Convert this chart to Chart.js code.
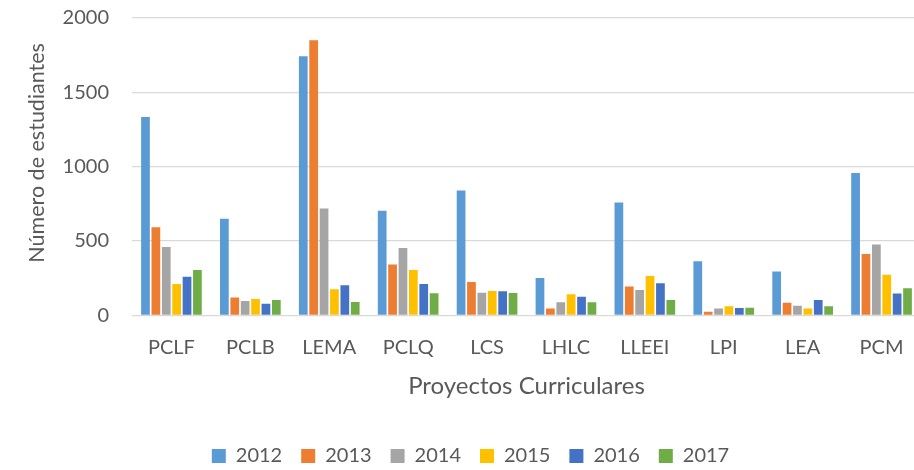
<!DOCTYPE html>
<html>
<head>
<meta charset="utf-8">
<script src="https://cdn.jsdelivr.net/npm/chart.js@4/dist/chart.umd.min.js"></script>
<style>
  html, body { margin: 0; padding: 0; background: #fff; overflow: hidden; }
  #wrap { width: 948px; height: 470px; }
</style>
</head>
<body>
<div id="wrap"><canvas id="c" width="948" height="470"></canvas></div>
<script>
const categories = ["PCLF", "PCLB", "LEMA", "PCLQ", "LCS", "LHLC", "LLEEI", "LPI", "LEA", "PCM"];
const years = ["2012", "2013", "2014", "2015", "2016", "2017"];
const v2012 = [1334, 649, 1742, 703, 840, 251, 759, 364, 294, 957];
const v2013 = [593, 119, 1850, 341, 224, 45, 193, 24, 85, 413];
const v2014 = [460, 96, 718, 453, 152, 88, 170, 45, 65, 476];
const v2015 = [211, 110, 175, 305, 164, 141, 265, 61, 45, 272];
const v2016 = [260, 78, 202, 211, 162, 125, 216, 49, 103, 146];
const v2017 = [305, 103, 90, 148, 150, 88, 103, 51, 61, 182];
const yTicks = [0, 500, 1000, 1500, 2000];

const seriesValues = [v2012, v2013, v2014, v2015, v2016, v2017];
const colors = ["#5B9BD5", "#ED7D31", "#A5A5A5", "#FFC000", "#4472C4", "#70AD47"];
const textColor = "#595959";
const fontFamily = "Lato, 'Open Sans', sans-serif";

new Chart(document.getElementById("c"), {
  type: "bar",
  data: {
    labels: categories,
    datasets: years.map((y, i) => ({
      label: y,
      data: seriesValues[i],
      backgroundColor: colors[i],
      borderWidth: 0,
      categoryPercentage: 0.79,
      barPercentage: 0.84
    }))
  },
  options: {
    responsive: false,
    animation: false,
    devicePixelRatio: 1,
    layout: { padding: { left: 20, right: 27, top: 18, bottom: -6 } },
    plugins: {
      tooltip: { enabled: false },
      legend: {
        position: "bottom",
        labels: {
          color: textColor,
          font: { family: fontFamily, size: 20 },
          boxWidth: 14,
          boxHeight: 14,
          padding: 19
        }
      }
    },
    scales: {
      x: {
        grid: { display: false, drawTicks: false },
        border: { display: false },
        afterFit: (axis) => { axis.height = 111.7; axis.paddingLeft = 0; axis.paddingRight = 0; },
        ticks: {
          color: textColor,
          font: { family: fontFamily, size: 20 },
          padding: 20,
          maxRotation: 0,
          autoSkip: false
        },
        title: {
          display: true,
          text: "Proyectos Curriculares",
          color: textColor,
          font: { family: fontFamily, size: 24 },
          padding: { top: 0, bottom: 26 }
        }
      },
      y: {
        min: 0,
        max: 2000,
        afterBuildTicks: (axis) => { axis.ticks = yTicks.map(v => ({ value: v })); },
        afterFit: (axis) => { axis.width = 112; axis.paddingTop = 0; axis.paddingBottom = 0; },
        grid: { color: "#D9D9D9", lineWidth: 1.3, drawTicks: false },
        border: { display: false },
        ticks: {
          color: textColor,
          font: { family: fontFamily, size: 20 },
          padding: 23,
          callback: (v) => String(v)
        },
        title: {
          display: true,
          text: "     Número de estudiantes",
          color: textColor,
          font: { family: fontFamily, size: 21.5 },
          padding: { top: 4, bottom: 0 }
        }
      }
    }
  }
});
</script>
</body>
</html>
